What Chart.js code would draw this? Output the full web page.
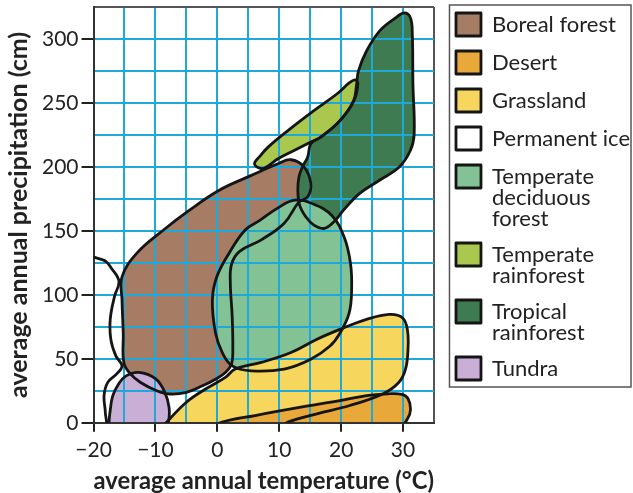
<!DOCTYPE html>
<html>
<head>
<meta charset="utf-8">
<script src="https://cdn.jsdelivr.net/npm/chart.js@4.4.1/dist/chart.umd.min.js"></script>
<style>
  html, body { margin: 0; padding: 0; background: #fff; }
</style>
</head>
<body>
<canvas id="myChart" width="633" height="493"></canvas>
<script>
// biome outlines as [temperature (°C), precipitation (cm)]
var biomes = ['Boreal forest', 'Desert', 'Grassland', 'Permanent ice',
    ['Temperate', 'deciduous', 'forest'], ['Temperate', 'rainforest'], ['Tropical', 'rainforest'], 'Tundra'];
var colors = ['#a67d64', '#e9a83a', '#f6d65c', '#ffffff', '#82c295', '#a9c84d', '#3f7b50', '#c9afd5'];
// which blob lies on top (lower = drawn later)
var stacking = [6, 1, 3, 8, 4, 7, 5, 2];

var boreal = [[-15.4, 114], [-13, 132.6], [-8.7, 150.7], [-4.5, 166.2], [0.3, 181.8], [5.5, 193.4],
    [9.8, 202.5], [11.9, 205.6], [14.0, 200], [15.1, 187], [14.6, 176.6], [13.2, 172.7], [10.8, 156],
    [7.1, 143], [3.6, 134], [2.3, 124], [2.1, 109], [2.4, 83], [2.5, 57.5], [2.3, 46], [1.3, 39.3],
    [-0.3, 34.1], [-2.4, 28.9], [-5, 23.8], [-7.7, 22.5], [-9.8, 25.1], [-12.4, 31.5], [-14, 38],
    [-15.1, 47], [-15.2, 70], [-15.4, 96]];
var desert = [[-1.5, -6], [0.8, 0.5], [6.1, 5.7], [13.5, 12.2], [19.8, 17.3], [24.1, 21.2], [27.5, 22.6],
    [29.8, 22.3], [30.8, 19], [31.2, 10], [30.7, 3], [29.5, -3], [20, -6]];
var grassland = [[-9.5, -6], [-8.2, 0.5], [-5, 16.1], [-1.9, 26.4], [1.3, 35.5], [2.9, 42], [7.1, 47.2],
    [11.9, 54.9], [16.1, 65.3], [19.8, 73], [24.1, 80.8], [27.8, 84.7], [29.9, 82.1], [30.7, 73],
    [30.8, 57.5], [30.4, 42], [29.3, 31.5], [26.7, 22.5], [21.4, 13.5], [16.1, 7], [11.4, 0.5], [9, -6]];
var ice = [[-23, 127.4], [-18.5, 127.4], [-17.0, 120], [-15.9, 110.6], [-16.6, 99], [-17.3, 81],
    [-17.2, 65], [-16.4, 52.3], [-15.4, 44.5], [-16.3, 38], [-17.7, 31.6], [-18.3, 21.2], [-18.1, 8.3],
    [-18.2, -4], [-23, -4]];
var deciduous = [[12.5, 174], [15.5, 171], [18.5, 162], [20.5, 145], [21.5, 125], [21.7, 105], [21.3, 86],
    [19.8, 70], [18.2, 60], [15.1, 49.7], [10.8, 42], [5.5, 40.6], [2.4, 44.5], [0.8, 54.8], [-0.3, 70.4],
    [-0.8, 96], [-0.1, 114], [1.9, 132.6], [4.5, 150.7], [6.8, 158], [9.8, 168]];
var temperateRain = [[6.0, 202.5], [7.0, 209], [8.2, 215.5], [11.4, 228.4], [15.6, 244], [19.3, 257],
    [21.4, 266], [22.3, 268], [22.7, 265], [22.1, 252], [19.9, 236.6], [16.8, 223.6], [15.1, 219.5],
    [12.4, 212.9], [9.8, 206.4], [8.2, 200.8], [7.1, 198.6]];
var tropicalRain = [[30.2, 320.4], [31.2, 316.5], [31.5, 303.6], [31.6, 264.7], [31.8, 226], [31.2, 213],
    [29.4, 200], [26.2, 189.6], [23.0, 179.3], [20.4, 166.3], [19.0, 158], [17.3, 152], [15.6, 154.5],
    [14.3, 161], [13.3, 170], [13.0, 181.8], [13.2, 192.5], [13.8, 200.5], [14.6, 207.7], [15.1, 218.1],
    [16.7, 223.2], [19.8, 236.2], [22.0, 251.7], [22.5, 264.7], [22.8, 275], [24.1, 290.6], [26.2, 306.2],
    [28.8, 316.5]];
var tundra = [[-17.5, 0.8], [-17.3, 10], [-16.9, 21], [-16, 30], [-14.8, 36.5], [-12.7, 39.4], [-10, 34.5],
    [-8.5, 24], [-7.8, 12], [-7.9, 0.5], [-8.5, -5], [-13, -7], [-17.5, -5]];
var shapes = [boreal, desert, grassland, ice, deciduous, temperateRain, tropicalRain, tundra];

var xTicks = [-20, -10, 0, 10, 20, 30];
var yTicks = [0, 50, 100, 150, 200, 250, 300];

var gridBlue = '#1fa9d9';
var frame = '#555555';

// close every outline into a loop, like the radar chart does
var closeLoops = {
    id: 'closeLoops',
    afterDatasetUpdate: function (chart, args) {
        var line = args.meta.dataset;
        if (line) {
            line._loop = true;
            line._fullLoop = true;
            line._pointsUpdated = false;
            delete line._segments;
            line._path = undefined;
        }
    }
};

// keep the legend a small gap away from the plot, and box it
var legendBox = {
    id: 'legendBox',
    afterLayout: function (chart) {
        var lg = chart.legend;
        var dx = chart.chartArea.right + 22 - (lg.left + lg.options.labels.padding);
        lg.left += dx;
        lg.right += dx;
        lg.top -= 2;
    },
    afterDraw: function (chart) {
        var lg = chart.legend;
        var c = chart.ctx;
        var x0 = lg.left + lg.options.labels.padding - 7;
        c.save();
        c.strokeStyle = frame;
        c.lineWidth = 1.5;
        c.strokeRect(x0 + 0.5, 5, chart.width - x0 - 2.5, 382);
        c.restore();
    }
};

Chart.defaults.font.family = 'Lato';
Chart.defaults.color = '#222';

var ctx = document.getElementById('myChart');
var myChart = new Chart(ctx, {
    type: 'line',
    data: {
        datasets: shapes.map(function (pts, i) {
            return {
                label: biomes[i],
                data: pts.map(function (p) { return {x: p[0], y: p[1]}; }),
                backgroundColor: colors[i],
                borderColor: '#151515',
                borderWidth: 2.8,
                borderJoinStyle: 'round',
                fill: 'shape',
                tension: 0.4,
                capBezierPoints: false,
                pointRadius: 0,
                pointHoverRadius: 0,
                clip: 0,
                order: stacking[i]
            };
        })
    },
    plugins: [closeLoops, legendBox],
    options: {
        responsive: false,
        animation: false,
        devicePixelRatio: 1,
        events: [],
        layout: {padding: {left: 2, right: 0, top: 0, bottom: 0}},
        plugins: {
            filler: {drawTime: 'beforeDraw'},
            tooltip: {enabled: false},
            legend: {
                position: 'right',
                align: 'start',
                maxWidth: 260,
                labels: {
                    boxWidth: 25,
                    boxHeight: 23,
                    padding: 15,
                    color: '#222',
                    font: {size: 22, lineHeight: '21px'},
                    sort: function (a, b) { return a.datasetIndex - b.datasetIndex; }
                }
            }
        },
        scales: {
            x: {
                type: 'linear',
                min: -20,
                max: 35,
                ticks: {
                    stepSize: 5,
                    autoSkip: false,
                    maxRotation: 0,
                    padding: 6,
                    font: {size: 21},
                    callback: function (v) {
                        return xTicks.indexOf(v) >= 0 ? String(v).replace('-', '\u2212') : '';
                    }
                },
                grid: {
                    lineWidth: 2,
                    tickLength: 9,
                    tickWidth: 2,
                    color: function (c) { return c.tick && c.tick.value === 35 ? frame : gridBlue; },
                    tickColor: function (c) {
                        return c.tick && xTicks.indexOf(c.tick.value) >= 0 ? '#222' : 'rgba(0,0,0,0)';
                    }
                },
                border: {color: '#333', width: 2},
                title: {
                    display: true,
                    text: 'average annual temperature (\u00b0C)',
                    font: {size: 24, weight: 'bold', lineHeight: 1},
                    padding: {top: 0, bottom: 0}
                }
            },
            y: {
                min: 0,
                max: 325,
                afterFit: function (scale) { scale.paddingTop = 7; },
                ticks: {
                    stepSize: 25,
                    autoSkip: false,
                    padding: 3,
                    font: {size: 21},
                    callback: function (v) { return yTicks.indexOf(v) >= 0 ? String(v) : ''; }
                },
                grid: {
                    lineWidth: 2,
                    tickLength: 12,
                    tickWidth: 2,
                    color: function (c) { return c.tick && c.tick.value === 325 ? frame : gridBlue; },
                    tickColor: function (c) {
                        return c.tick && yTicks.indexOf(c.tick.value) >= 0 ? '#222' : 'rgba(0,0,0,0)';
                    }
                },
                border: {color: '#333', width: 2},
                title: {
                    display: true,
                    text: 'average annual precipitation (cm)',
                    font: {size: 25, weight: 'bold'},
                    padding: {top: 2, bottom: 5}
                }
            }
        }
    }
});
</script>
</body>
</html>
